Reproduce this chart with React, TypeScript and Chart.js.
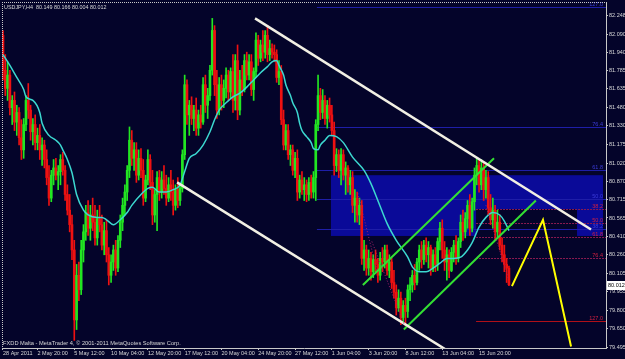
import React, { useEffect, useRef } from "react";
import { Chart, registerables } from "chart.js";
Chart.register(...registerables);

// ---- candle data (USDJPY H4), bar index 0 = 28 Apr 2011 08:00 ----
const opens = [
  82.08, 81.79, 81.64, 81.75, 81.48, 81.54, 81.36, 81.44, 81.23, 81.13,
  81.34, 81.54, 81.46, 81.28, 81.34, 81.19, 81.25, 81.13, 81.17, 81.05,
  80.90, 80.73, 80.92, 80.98, 80.92, 80.95, 81.05, 80.96, 80.76, 80.63,
  80.51, 80.30, 79.72, 80.09, 79.97, 80.30, 80.45, 80.61, 80.48, 80.59,
  80.53, 80.40, 80.56, 80.51, 80.34, 80.46, 80.26, 80.09, 80.20, 80.30,
  80.15, 80.38, 80.53, 80.67, 80.78, 80.96, 81.21, 81.06, 81.13, 80.92,
  81.06, 80.96, 80.73, 80.88, 81.05, 80.86, 80.59, 80.76, 80.90, 80.78,
  80.88, 80.81, 80.73, 80.84, 80.78, 80.67, 80.80, 80.71, 80.81, 81.09,
  81.67, 81.42, 81.50, 81.39, 81.46, 81.31, 81.42, 81.36, 81.67, 81.50,
  81.58, 81.79, 82.12, 81.67, 81.46, 81.67, 81.54, 81.64, 81.75, 81.61,
  81.78, 81.54, 81.87, 81.46, 81.71, 81.63, 81.87, 81.75, 81.86, 81.63,
  81.78, 82.04, 81.89, 82.00, 81.94, 82.08, 81.92, 81.97, 81.94, 81.92,
  81.73, 81.78, 81.38, 81.17, 81.29, 81.09, 81.13, 80.96, 81.06, 80.78,
  80.88, 80.80, 80.84, 80.76, 80.86, 80.78, 80.90, 81.34, 81.58, 81.44,
  81.54, 81.39, 81.50, 81.42, 81.29, 81.00, 81.09, 80.96, 81.09, 80.92,
  80.98, 80.84, 80.90, 80.67, 80.73, 80.59, 80.67, 80.23, 80.30, 80.15,
  80.23, 80.12, 80.22, 80.18, 80.09, 80.23, 80.20, 80.30, 80.13, 80.20,
  80.03, 79.95, 79.82, 79.90, 79.74, 79.84, 79.79, 79.97, 80.01, 80.09,
  80.03, 80.20, 80.30, 80.22, 80.34, 80.26, 80.32, 80.15, 80.26, 80.18,
  80.37, 80.48, 80.30, 80.20, 80.26, 80.13, 80.28, 80.34, 80.23, 80.37,
  80.53, 80.45, 80.56, 80.67, 80.48, 80.70, 80.92, 81.00, 80.84, 80.98,
  80.80, 80.90, 80.65, 80.55, 80.63, 80.45, 80.53, 80.34, 80.26, 80.18,
  80.149,
];
const highs = [
  82.12, 81.92, 81.86, 81.79, 81.58, 81.61, 81.50, 81.48, 81.38, 81.39,
  81.58, 81.68, 81.50, 81.39, 81.42, 81.31, 81.34, 81.23, 81.21, 81.13,
  81.00, 80.96, 81.05, 81.06, 81.00, 81.09, 81.11, 81.00, 80.84, 80.76,
  80.59, 80.38, 80.18, 80.20, 80.38, 80.51, 80.67, 80.71, 80.67, 80.73,
  80.67, 80.63, 80.67, 80.59, 80.53, 80.55, 80.32, 80.26, 80.34, 80.38,
  80.42, 80.59, 80.73, 80.84, 81.00, 81.32, 81.29, 81.19, 81.19, 81.13,
  81.14, 81.05, 80.92, 81.13, 81.09, 80.96, 80.80, 80.95, 80.96, 80.95,
  81.00, 80.92, 80.90, 80.96, 80.88, 80.84, 80.90, 80.84, 81.13, 81.75,
  81.71, 81.54, 81.57, 81.50, 81.56, 81.46, 81.50, 81.73, 81.75, 81.64,
  81.83, 82.22, 82.16, 81.79, 81.73, 81.75, 81.71, 81.81, 81.79, 81.81,
  81.92, 81.92, 82.00, 81.79, 81.83, 81.92, 81.94, 81.92, 81.92, 81.81,
  82.10, 82.08, 82.04, 82.12, 82.12, 82.16, 82.04, 82.01, 82.00, 81.96,
  81.87, 81.83, 81.46, 81.34, 81.34, 81.17, 81.17, 81.11, 81.13, 80.92,
  80.95, 80.90, 80.88, 80.90, 80.92, 80.95, 81.38, 81.75, 81.64, 81.63,
  81.58, 81.54, 81.56, 81.50, 81.36, 81.14, 81.13, 81.14, 81.13, 81.03,
  81.00, 80.96, 80.95, 80.80, 80.78, 80.73, 80.71, 80.38, 80.34, 80.30,
  80.28, 80.26, 80.30, 80.23, 80.28, 80.32, 80.34, 80.34, 80.26, 80.23,
  80.13, 80.01, 79.97, 79.95, 79.88, 79.90, 80.01, 80.07, 80.13, 80.18,
  80.23, 80.34, 80.37, 80.38, 80.40, 80.37, 80.34, 80.30, 80.32, 80.40,
  80.53, 80.55, 80.37, 80.32, 80.30, 80.32, 80.38, 80.42, 80.40, 80.59,
  80.63, 80.61, 80.71, 80.76, 80.73, 80.98, 81.06, 81.05, 81.05, 81.03,
  80.96, 80.95, 80.76, 80.73, 80.67, 80.63, 80.59, 80.40, 80.34, 80.23,
  80.166,
];
const lows = [
  81.71, 81.58, 81.54, 81.42, 81.34, 81.29, 81.25, 81.17, 81.05, 81.06,
  81.29, 81.39, 81.21, 81.17, 81.13, 81.13, 81.05, 81.00, 80.98, 80.84,
  80.67, 80.70, 80.84, 80.88, 80.80, 80.84, 80.92, 80.71, 80.59, 80.45,
  80.22, 79.55, 79.64, 79.88, 79.93, 80.20, 80.38, 80.42, 80.38, 80.46,
  80.34, 80.34, 80.45, 80.30, 80.26, 80.20, 80.01, 80.03, 80.13, 80.09,
  80.12, 80.32, 80.46, 80.59, 80.71, 80.90, 81.00, 80.96, 80.86, 80.88,
  80.90, 80.67, 80.70, 80.84, 80.80, 80.51, 80.53, 80.46, 80.71, 80.73,
  80.76, 80.67, 80.70, 80.71, 80.59, 80.63, 80.65, 80.67, 80.78, 81.05,
  81.34, 81.25, 81.34, 81.29, 81.25, 81.25, 81.31, 81.34, 81.44, 81.39,
  81.54, 81.75, 81.58, 81.39, 81.42, 81.46, 81.48, 81.56, 81.54, 81.56,
  81.44, 81.46, 81.38, 81.42, 81.58, 81.61, 81.71, 81.71, 81.58, 81.54,
  81.73, 81.83, 81.86, 81.87, 81.89, 81.86, 81.87, 81.89, 81.86, 81.69,
  81.67, 81.34, 81.13, 81.13, 81.05, 81.00, 80.92, 80.90, 80.71, 80.73,
  80.76, 80.71, 80.70, 80.71, 80.73, 80.73, 80.71, 81.29, 81.38, 81.39,
  81.34, 81.31, 81.36, 81.25, 80.92, 80.95, 80.90, 80.84, 80.88, 80.76,
  80.78, 80.76, 80.61, 80.53, 80.53, 80.51, 80.18, 80.13, 80.09, 80.09,
  80.05, 80.07, 80.12, 80.03, 80.05, 80.12, 80.15, 80.09, 80.07, 79.98,
  79.90, 79.76, 79.79, 79.68, 79.70, 79.67, 79.74, 79.88, 79.95, 79.97,
  80.01, 80.13, 80.15, 80.18, 80.20, 80.15, 80.09, 80.12, 80.12, 80.13,
  80.30, 80.23, 80.13, 80.05, 80.07, 80.12, 80.20, 80.18, 80.20, 80.32,
  80.38, 80.40, 80.48, 80.42, 80.45, 80.63, 80.84, 80.78, 80.80, 80.71,
  80.73, 80.59, 80.51, 80.48, 80.38, 80.40, 80.30, 80.20, 80.12, 80.03,
  80.004,
];
const closes = [
  81.79, 81.64, 81.75, 81.48, 81.54, 81.36, 81.44, 81.23, 81.13, 81.34,
  81.54, 81.46, 81.28, 81.34, 81.19, 81.25, 81.13, 81.17, 81.05, 80.90,
  80.73, 80.92, 80.98, 80.92, 80.95, 81.05, 80.96, 80.76, 80.63, 80.51,
  80.30, 79.72, 80.09, 79.97, 80.30, 80.45, 80.61, 80.48, 80.59, 80.53,
  80.40, 80.56, 80.51, 80.34, 80.46, 80.26, 80.09, 80.20, 80.30, 80.15,
  80.38, 80.53, 80.67, 80.78, 80.96, 81.21, 81.06, 81.13, 80.92, 81.06,
  80.96, 80.73, 80.88, 81.05, 80.86, 80.59, 80.76, 80.90, 80.78, 80.88,
  80.81, 80.73, 80.84, 80.78, 80.67, 80.80, 80.71, 80.81, 81.09, 81.67,
  81.42, 81.50, 81.39, 81.46, 81.31, 81.42, 81.36, 81.67, 81.50, 81.58,
  81.79, 82.12, 81.67, 81.46, 81.67, 81.54, 81.64, 81.75, 81.61, 81.78,
  81.54, 81.87, 81.46, 81.71, 81.63, 81.87, 81.75, 81.86, 81.63, 81.78,
  82.04, 81.89, 82.00, 81.94, 82.08, 81.92, 81.97, 81.94, 81.92, 81.73,
  81.78, 81.38, 81.17, 81.29, 81.09, 81.13, 80.96, 81.06, 80.78, 80.88,
  80.80, 80.84, 80.76, 80.86, 80.78, 80.90, 81.34, 81.58, 81.44, 81.54,
  81.39, 81.50, 81.42, 81.29, 81.00, 81.09, 80.96, 81.09, 80.92, 80.98,
  80.84, 80.90, 80.67, 80.73, 80.59, 80.67, 80.23, 80.30, 80.15, 80.23,
  80.12, 80.22, 80.18, 80.09, 80.23, 80.20, 80.30, 80.13, 80.20, 80.03,
  79.95, 79.82, 79.90, 79.74, 79.84, 79.79, 79.97, 80.01, 80.09, 80.03,
  80.20, 80.30, 80.22, 80.34, 80.26, 80.32, 80.15, 80.26, 80.18, 80.37,
  80.48, 80.30, 80.20, 80.26, 80.13, 80.28, 80.34, 80.23, 80.37, 80.53,
  80.45, 80.56, 80.67, 80.48, 80.70, 80.92, 81.00, 80.84, 80.98, 80.80,
  80.90, 80.65, 80.55, 80.63, 80.45, 80.53, 80.34, 80.26, 80.18, 80.15,
  80.012,
];

// ---- moving average (cyan) ----
const maIdx = [
  0, 3, 6, 9, 10, 13, 16, 17, 20, 23, 25, 26, 28, 30, 32, 35, 37, 41, 43, 45,
  48, 51, 54, 56, 60, 63, 65, 68, 71, 74, 77, 79, 81, 84, 87, 90, 92, 94, 97, 100,
  103, 106, 109, 112, 115, 117, 119, 120, 122, 123, 125, 126, 128, 129, 130, 132, 134, 135, 137, 138,
  140, 142, 145, 148, 152, 157, 160, 163, 167, 171, 176, 178, 181, 184, 187, 190, 193, 196, 199, 202,
  204, 207, 210, 213, 216, 218, 220,
];
const maVal = [
  81.92, 81.83, 81.73, 81.63, 81.57, 81.54, 81.44, 81.35, 81.25, 81.21, 81.17, 81.13, 81.05, 80.94, 80.76, 80.63, 80.59, 80.57, 80.57, 80.55,
  80.51, 80.55, 80.61, 80.67, 80.76, 80.81, 80.82, 80.78, 80.78, 80.80, 80.84, 80.95, 81.06, 81.10, 81.17, 81.28, 81.38, 81.46, 81.52, 81.57,
  81.60, 81.65, 81.71, 81.77, 81.82, 81.86, 81.87, 81.83, 81.75, 81.67, 81.58, 81.52, 81.44, 81.35, 81.29, 81.24, 81.19, 81.14, 81.13, 81.17,
  81.21, 81.25, 81.24, 81.19, 81.07, 80.96, 80.85, 80.71, 80.52, 80.38, 80.24, 80.16, 80.12, 80.12, 80.15, 80.19, 80.23, 80.23, 80.24, 80.30,
  80.36, 80.49, 80.57, 80.61, 80.59, 80.54, 80.46,
];

// ---- drawn objects (bar index, price) ----
const whiteUpperX = [109.6, 255.7];
const whiteUpperY = [82.22, 80.47];
const whiteLowerX = [75.7, 192.2];
const whiteLowerY = [80.86, 79.478];
const greenUpperX = [156.5, 213.5];
const greenUpperY = [80.01, 81.06];
const greenLowerX = [174.3, 231.7];
const greenLowerY = [79.64, 80.71];
const yellowX = [221.3, 234.8, 247.0];
const yellowY = [80.0, 80.55, 79.5];
const dotted1X = [160.4, 174.3];
const dotted1Y = [80.37, 79.69];
const dotted2X = [210.0, 219.6];
const dotted2Y = [80.67, 80.07];
const dotted3X = [154.3, 162.6];
const dotted3Y = [80.77, 80.13];

const blueRectX = [142.6, 260.9];
const blueRectY = [80.92, 80.416];
const darkRectX = [205.7, 249.6];
const darkRectY = [80.639, 80.406];
const blueFibStart = 136.5;
const blueFibLevels = [82.314, 81.319, 80.962, 80.722, 80.473];
const blueFibLabels = ["127.0", "76.4", "61.8", "50.0", "38.2"];
const redFibStart = 205.7;
const redFibLevels = [80.639, 80.523, 80.406, 80.233, 79.71];
const redFibLabels = ["38.2", "50.0", "61.8", "76.4", "127.0"];

// ---- axes ----
const xTickIdx = [0, 15, 31, 47, 63, 79, 95, 111, 127, 143, 159, 175, 191, 207];
const xTickLabels = [
  "28 Apr 2011", "2 May 20:00", "5 May 12:00", "10 May 04:00", "12 May 20:00",
  "17 May 12:00", "20 May 04:00", "24 May 20:00", "27 May 12:00", "1 Jun 04:00",
  "3 Jun 20:00", "8 Jun 12:00", "13 Jun 04:00", "15 Jun 20:00",
];
const yTicks = [
  82.248, 82.09, 81.94, 81.785, 81.635, 81.48, 81.33, 81.175, 81.02, 80.87,
  80.715, 80.565, 80.41, 80.26, 80.105, 79.955, 79.8, 79.65, 79.495,
];
const titleText = "USDJPY,H4  80.149 80.166 80.004 80.012";
const footerText = "FXDD Malta - MetaTrader 4, \u00A9 2001-2011 MetaQuotes Software Corp.";

const BG = "#04042a";
const GREEN = "#22e622";
const RED = "#ee1111";
const AXIS = "#c8c8c8";
const TEXT = "#d8d8d8";
const FONT = "Liberation Sans";

export default function App() {
  const ref = useRef<HTMLCanvasElement>(null);
  useEffect(() => {
    const canvas = ref.current;
    if (!canvas) return;
    const idx = closes.map((_, i) => i);
    const colors = idx.map((i) => (closes[i] >= opens[i] ? GREEN : RED));
    const pts = (xs: number[], ys: number[]) => xs.map((x, k) => ({ x, y: ys[k] }));

    const bgPlugin = {
      id: "bg",
      beforeDraw(chart: any) {
        const c = chart.ctx;
        c.save();
        c.fillStyle = BG;
        c.fillRect(0, 0, chart.width, chart.height);
        c.restore();
      },
    };

    const annoPlugin = {
      id: "anno",
      beforeDatasetsDraw(chart: any) {
        const { ctx, chartArea: a } = chart;
        const x = chart.scales.x;
        const y = chart.scales.y;
        ctx.save();
        ctx.beginPath();
        ctx.rect(a.left, a.top, a.right - a.left, a.bottom - a.top);
        ctx.clip();
        const box = (xs: number[], ys: number[], color: string) => {
          const x0 = x.getPixelForValue(xs[0]);
          const x1 = x.getPixelForValue(xs[1]);
          const y0 = y.getPixelForValue(ys[0]);
          const y1 = y.getPixelForValue(ys[1]);
          ctx.fillStyle = color;
          ctx.fillRect(x0, y0, x1 - x0, y1 - y0);
        };
        box(blueRectX, blueRectY, "#0a0a98");
        box(darkRectX, darkRectY, BG);
        ctx.lineWidth = 1;
        ctx.strokeStyle = "#1e1ea8";
        ctx.setLineDash([]);
        blueFibLevels.forEach((v) => {
          const py = Math.round(y.getPixelForValue(v)) + 0.5;
          ctx.beginPath();
          ctx.moveTo(x.getPixelForValue(blueFibStart), py);
          ctx.lineTo(a.right, py);
          ctx.stroke();
        });
        redFibLevels.forEach((v, k) => {
          const py = Math.round(y.getPixelForValue(v)) + 0.5;
          ctx.strokeStyle = k === redFibLevels.length - 1 ? "#b01018" : "#8a1a50";
          ctx.setLineDash(k === redFibLevels.length - 1 ? [] : [2, 1]);
          ctx.beginPath();
          ctx.moveTo(x.getPixelForValue(redFibStart), py);
          ctx.lineTo(a.right, py);
          ctx.stroke();
        });
        ctx.restore();
      },
      afterDatasetsDraw(chart: any) {
        const { ctx, chartArea: a } = chart;
        const y = chart.scales.y;
        ctx.save();
        ctx.font = `5.5px "${FONT}"`;
        ctx.textAlign = "right";
        ctx.textBaseline = "bottom";
        ctx.fillStyle = "#3c3cd8";
        blueFibLevels.forEach((v, k) => {
          ctx.fillText(blueFibLabels[k], a.right - 3, Math.round(y.getPixelForValue(v)));
        });
        ctx.fillStyle = "#d02040";
        redFibLevels.forEach((v, k) => {
          ctx.fillText(redFibLabels[k], a.right - 3, Math.round(y.getPixelForValue(v)));
        });
        ctx.restore();
      },
      afterDraw(chart: any) {
        const { ctx, chartArea: a } = chart;
        const y = chart.scales.y;
        ctx.save();
        // frame (top & left dotted)
        ctx.strokeStyle = AXIS;
        ctx.lineWidth = 1;
        ctx.setLineDash([1, 1]);
        ctx.beginPath();
        ctx.moveTo(a.left, a.top + 0.5);
        ctx.lineTo(a.right, a.top + 0.5);
        ctx.moveTo(a.left + 0.5, a.top);
        ctx.lineTo(a.left + 0.5, a.bottom);
        ctx.stroke();
        ctx.setLineDash([]);
        // texts
        ctx.fillStyle = TEXT;
        ctx.textAlign = "left";
        ctx.textBaseline = "middle";
        ctx.font = `5.4px "${FONT}"`;
        ctx.fillText(titleText, a.left + 2, 7.5);
        ctx.font = `5.7px "${FONT}"`;
        ctx.fillText(footerText, a.left + 1, a.bottom - 4.5);
        // current price box
        const last = closes[closes.length - 1];
        const py = Math.round(y.getPixelForValue(last));
        ctx.fillStyle = "#ffffff";
        ctx.fillRect(a.right + 1, py - 4, 18, 9);
        ctx.fillStyle = "#000000";
        ctx.font = `5.5px "${FONT}"`;
        ctx.fillText(last.toFixed(3), a.right + 2, py + 0.5);
        ctx.restore();
      },
    };

    const lineDs = (xs: number[], ys: number[], color: string, width: number, dash: number[] = []) => ({
      type: "line" as const,
      data: pts(xs, ys),
      borderColor: color,
      borderWidth: width,
      borderDash: dash,
      pointRadius: 0,
      tension: 0,
      order: 0,
    });

    const chart = new Chart(canvas, {
      type: "bar",
      data: {
        datasets: [
          {
            type: "bar",
            data: idx.map((i) => ({ x: i, y: [lows[i], highs[i]] })) as any,
            backgroundColor: colors,
            barThickness: 1,
            grouped: false,
            order: 5,
          },
          {
            type: "bar",
            data: idx.map((i) => ({ x: i, y: [opens[i], closes[i]] })) as any,
            backgroundColor: colors,
            barThickness: 2,
            minBarLength: 1,
            grouped: false,
            order: 4,
          },
          {
            type: "line",
            data: pts(maIdx, maVal),
            borderColor: "#3cd8d0",
            borderWidth: 1.5,
            pointRadius: 0,
            cubicInterpolationMode: "monotone",
            order: 3,
          },
          lineDs(dotted1X, dotted1Y, "#a8206a", 1, [1, 2]),
          lineDs(dotted2X, dotted2Y, "#a8206a", 1, [1, 2]),
          lineDs(dotted3X, dotted3Y, "#a8206a", 1, [1, 2]),
          lineDs(whiteUpperX, whiteUpperY, "#f2f0e4", 2.5),
          lineDs(whiteLowerX, whiteLowerY, "#f2f0e4", 2.5),
          lineDs(greenUpperX, greenUpperY, "#33e033", 2),
          lineDs(greenLowerX, greenLowerY, "#33e033", 2),
          lineDs(yellowX, yellowY, "#ffff00", 2),
        ] as any,
      },
      options: {
        responsive: false,
        animation: false,
        devicePixelRatio: 1,
        events: [],
        layout: { padding: { left: 2, top: 2, right: 0, bottom: 0 } },
        plugins: { legend: { display: false }, tooltip: { enabled: false } },
        scales: {
          x: {
            type: "linear",
            position: "bottom",
            min: -0.43,
            max: 262.2,
            offset: false,
            afterFit: (s: any) => {
              s.height = 11;
              s.paddingLeft = 0;
              s.paddingRight = 0;
            },
            afterBuildTicks: (s: any) => {
              s.ticks = xTickIdx.map((v) => ({ value: v }));
            },
            ticks: {
              callback: (_v: any, k: number) => xTickLabels[k] ?? "",
              align: "start",
              autoSkip: false,
              maxRotation: 0,
              minRotation: 0,
              padding: 0,
              color: TEXT,
              font: { size: 5.5, family: FONT },
            },
            grid: { display: true, drawOnChartArea: false, drawTicks: true, tickLength: 2, color: AXIS, offset: false },
            border: { display: true, color: AXIS, width: 1 },
          },
          y: {
            type: "linear",
            position: "right",
            min: 79.487,
            max: 82.356,
            afterFit: (s: any) => {
              s.width = 19;
              s.paddingTop = 0;
              s.paddingBottom = 0;
            },
            afterBuildTicks: (s: any) => {
              s.ticks = yTicks.map((v) => ({ value: v }));
            },
            ticks: {
              callback: (v: any) => Number(v).toFixed(3),
              autoSkip: false,
              padding: 1,
              color: TEXT,
              font: { size: 5.5, family: FONT },
            },
            grid: { display: true, drawOnChartArea: false, drawTicks: true, tickLength: 2, color: AXIS },
            border: { display: true, color: AXIS, width: 1 },
          },
        },
      } as any,
      plugins: [bgPlugin, annoPlugin],
    });
    return () => chart.destroy();
  }, []);

  return (
    <div style={{ position: "fixed", left: 0, top: 0, width: 625, height: 359, background: BG }}>
      <canvas ref={ref} width={625} height={359} style={{ display: "block" }} />
    </div>
  );
}
